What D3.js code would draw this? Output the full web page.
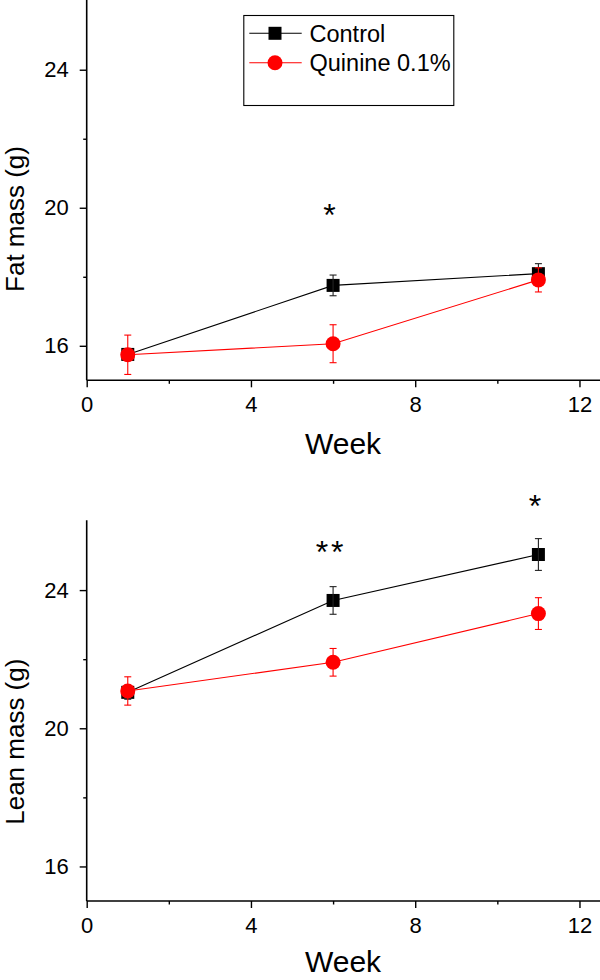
<!DOCTYPE html>
<html>
<head>
<meta charset="utf-8">
<script src="https://cdn.jsdelivr.net/npm/d3@7"></script>
<style>
  html, body { margin: 0; padding: 0; background: #fff; }
  svg { display: block; }
  text { font-family: "Liberation Sans", Arial, Helvetica, sans-serif; fill: #000; }
</style>
</head>
<body>
<svg id="chart" width="600" height="980"></svg>
<script>
// ---------- data ----------
const weeks = [1, 6, 11];
const seriesNames = ["Control", "Quinine 0.1%"];

const fatControl = [15.75, 17.75, 18.09];
const fatControlErr = [0.15, 0.30, 0.29];
const fatQuinine = [15.74, 16.06, 17.91];
const fatQuinineErr = [0.57, 0.55, 0.35];

const leanControl = [21.04, 23.70, 25.03];
const leanControlErr = [0.20, 0.40, 0.46];
const leanQuinine = [21.08, 21.91, 23.32];
const leanQuinineErr = [0.41, 0.40, 0.46];

const xTicks = [0, 4, 8, 12];
const xMinorTicks = [2, 6, 10];
const yTicks = [16, 20, 24];
const yMinorTicks = [18, 22];

const fatStarWeeks = [6];
const fatStarValues = [19.97];
const fatStarLabels = ["*"];
const leanStarWeeks = [6, 11];
const leanStarValues = [25.29, 26.6];
const leanStarLabels = ["**", "*"];

// ---------- drawing ----------
const svg = d3.select("#chart");
const colors = ["#000000", "#ff0000"];

const panels = [
  { yTitle: "Fat mass (g)", top: 0.7, bottom: 380.3, titleY: 219, weekOffset: 73.7,
    control: fatControl, controlErr: fatControlErr, quinine: fatQuinine, quinineErr: fatQuinineErr,
    starW: fatStarWeeks, starV: fatStarValues, starL: fatStarLabels, legend: true },
  { yTitle: "Lean mass (g)", top: 521, bottom: 901, titleY: 741.7, weekOffset: 70.7,
    control: leanControl, controlErr: leanControlErr, quinine: leanQuinine, quinineErr: leanQuinineErr,
    starW: leanStarWeeks, starV: leanStarValues, starL: leanStarLabels, legend: false }
];

const xLeft = 86.7, xRight = 600;
const x = d3.scaleLinear().domain([0, 12.5]).range([xLeft, xRight]);

panels.forEach(p => {
  const y = d3.scaleLinear().domain([15, 26]).range([p.bottom, p.top]);
  const g = svg.append("g");

  // axes
  const xAxis = d3.axisBottom(x).tickValues(xTicks).tickSize(7).tickPadding(9).tickFormat(d3.format("d"));
  const gx = g.append("g").attr("transform", `translate(0,${p.bottom})`).call(xAxis);
  gx.select(".domain").attr("d", `M${xLeft},0H${xRight}`);
  const xMinor = d3.axisBottom(x).tickValues(xMinorTicks).tickSize(3.5).tickFormat("");
  const gxm = g.append("g").attr("transform", `translate(0,${p.bottom})`).call(xMinor);
  gxm.select(".domain").remove();

  const yAxis = d3.axisLeft(y).tickValues(yTicks).tickSize(7).tickPadding(11).tickFormat(d3.format("d"));
  const gy = g.append("g").attr("transform", `translate(${xLeft},0)`).call(yAxis);
  gy.select(".domain").attr("d", `M0,${p.top - 0.7}V${p.bottom}`);
  const yMinor = d3.axisLeft(y).tickValues(yMinorTicks).tickSize(3.5).tickFormat("");
  const gym = g.append("g").attr("transform", `translate(${xLeft},0)`).call(yMinor);
  gym.select(".domain").remove();

  g.selectAll(".domain").attr("stroke", "#000").attr("stroke-width", 1.6);
  g.selectAll(".tick line").attr("stroke", "#000").attr("stroke-width", 1.4);
  g.selectAll(".tick text").style("font-size", "22px").attr("fill", "#000");
  gx.selectAll(".tick text").attr("dy", "0.71em");

  // axis titles
  g.append("text")
    .attr("transform", `translate(23.5,${p.titleY}) rotate(-90)`)
    .attr("text-anchor", "middle")
    .style("font-size", "26px")
    .text(p.yTitle);
  g.append("text")
    .attr("x", 343).attr("y", p.bottom + p.weekOffset)
    .attr("text-anchor", "middle")
    .style("font-size", "30px")
    .text("Week");

  const series = [
    { vals: p.control, err: p.controlErr, color: colors[0], shape: "square" },
    { vals: p.quinine, err: p.quinineErr, color: colors[1], shape: "circle" }
  ];

  const line = d3.line().x((d, i) => x(weeks[i])).y(d => y(d));

  series.forEach(s => {
    const sg = g.append("g");
    sg.append("path").datum(s.vals)
      .attr("d", line).attr("fill", "none")
      .attr("stroke", s.color).attr("stroke-width", 1.1);

    if (s.shape === "square") {
      sg.selectAll("rect.m").data(s.vals).join("rect").attr("class", "m")
        .attr("x", (d, i) => x(weeks[i]) - 6.5).attr("y", d => y(d) - 6.5)
        .attr("width", 13).attr("height", 13).attr("fill", s.color);
    } else {
      sg.selectAll("circle.m").data(s.vals).join("circle").attr("class", "m")
        .attr("cx", (d, i) => x(weeks[i])).attr("cy", d => y(d))
        .attr("r", 7.5).attr("fill", s.color);
    }

    const eg = sg.selectAll("g.err").data(s.vals).join("g").attr("class", "err")
      .attr("stroke", s.color === "#000000" ? "#222" : s.color).attr("stroke-width", 1.1);
    eg.append("line")
      .attr("x1", (d, i) => x(weeks[i])).attr("x2", (d, i) => x(weeks[i]))
      .attr("y1", (d, i) => y(d + s.err[i])).attr("y2", (d, i) => y(d - s.err[i]));
    eg.append("line")
      .attr("x1", (d, i) => x(weeks[i]) - 3.5).attr("x2", (d, i) => x(weeks[i]) + 3.5)
      .attr("y1", (d, i) => y(d + s.err[i])).attr("y2", (d, i) => y(d + s.err[i]));
    eg.append("line")
      .attr("x1", (d, i) => x(weeks[i]) - 3.5).attr("x2", (d, i) => x(weeks[i]) + 3.5)
      .attr("y1", (d, i) => y(d - s.err[i])).attr("y2", (d, i) => y(d - s.err[i]));
  });

  // significance stars
  g.selectAll("text.star").data(p.starL).join("text").attr("class", "star")
    .attr("x", (d, i) => x(p.starW[i]) - 2)
    .attr("y", (d, i) => y(p.starV[i]) + 17)
    .attr("text-anchor", "middle")
    .style("font-size", "32px")
    .style("letter-spacing", "3px")
    .text(d => d);

  // legend
  if (p.legend) {
    const lg = g.append("g");
    lg.append("rect").attr("x", 243.8).attr("y", 15.5).attr("width", 210).attr("height", 90)
      .attr("fill", "#fff").attr("stroke", "#000").attr("stroke-width", 1.1);
    const rows = [33.3, 62.7];
    seriesNames.forEach((name, i) => {
      const ry = rows[i];
      lg.append("line").attr("x1", 249.3).attr("x2", 301.7).attr("y1", ry).attr("y2", ry)
        .attr("stroke", colors[i]).attr("stroke-width", 1.1);
      if (i === 0) {
        lg.append("rect").attr("x", 275 - 6.5).attr("y", ry - 6.5).attr("width", 13).attr("height", 13).attr("fill", colors[i]);
      } else {
        lg.append("circle").attr("cx", 275).attr("cy", ry).attr("r", 7.5).attr("fill", colors[i]);
      }
      lg.append("text").attr("x", 309.5).attr("y", ry + 8.4)
        .style("font-size", "23.5px").text(name);
    });
  }
});
</script>
</body>
</html>
